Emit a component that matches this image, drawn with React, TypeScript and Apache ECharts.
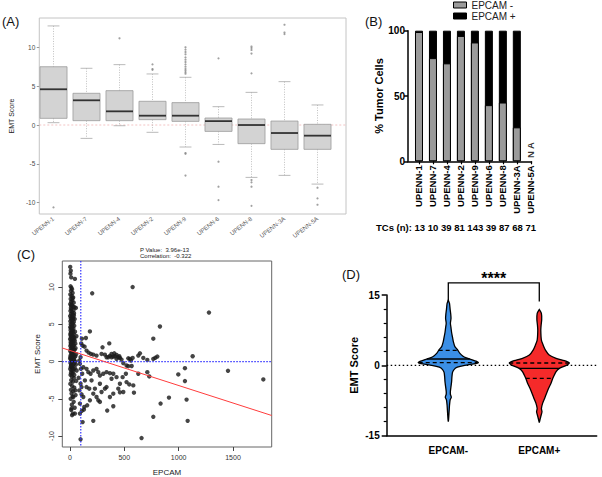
import React, { useEffect, useRef } from 'react';
import * as echarts from 'echarts';

const FONT = '"Liberation Sans", Arial, Helvetica, sans-serif';

// ---------- Panel A: box plots ----------
const aCats = ['UPENN-1', 'UPENN-7', 'UPENN-4', 'UPENN-2', 'UPENN-9', 'UPENN-6', 'UPENN-8', 'UPENN-3A', 'UPENN-5A'];
const aLow = [0.3, -1.72, -0.09, -0.94, -2.83, -2.5, -6.74, -6.48, -7.6];
const aQ1 = [0.86, 0.56, 0.56, 0.69, 0.47, -0.82, -2.4, -3.13, -3.13];
const aMed = [4.6, 3.18, 1.76, 1.2, 1.2, 0.5, 0.0, -1.03, -1.37];
const aQ3 = [7.5, 4.08, 4.42, 3.05, 2.88, 0.9, 0.77, 0.51, 0.09];
const aHigh = [12.75, 7.3, 7.77, 6.57, 6.14, 2.36, 4.2, 5.58, 2.58];
const aOutliers = [
  [0, -10.6],
  [2, 11.16],
  [3, 7.8], [3, 7.2], [3, 7.1],
  [4, 10.0], [4, 9.7], [4, 9.4], [4, 9.1], [4, 8.7], [4, 8.4], [4, 8.1], [4, 7.8], [4, 7.5], [4, 7.2], [4, 7.0], [4, 6.8], [4, 6.6], [4, -3.6], [4, -3.7], [4, -6.5],
  [5, 8.58], [5, -4.72], [5, -7.94], [5, -9.66],
  [6, 10.1], [6, 9.9], [6, 9.66], [6, 9.2], [6, 6.65], [6, -7.08], [6, -7.38], [6, -7.94], [6, -10.4],
  [7, 12.9], [7, 11.9], [7, 11.7],
  [8, -8.07], [8, -9.44], [8, -10.26],
];
const aYTicks = [-10, -5, 0, 5, 10];
const aYMin = -11.45;
const aYMax = 13.77;

// ---------- Panel B: stacked bars ----------
const bCats = ['UPENN-1', 'UPENN-7', 'UPENN-4', 'UPENN-2', 'UPENN-9', 'UPENN-6', 'UPENN-8', 'UPENN-3A', 'UPENN-5A'];
const bNeg = [99, 79, 75, 96, 91, 43, 45, 26, null];
const bPos = [1, 21, 25, 4, 9, 57, 55, 74, null];
const bCounts = [13, 10, 39, 81, 143, 39, 87, 68, 71];
const bNA = [[8, 8.6]];

// ---------- Panel C: scatter ----------
const cDense = [
  [3, 12.7], [8, 12.2], [5, 11.8], [12, 11.3], [46, 11.1], [6, 10.1], [14, 9.9], [20, 9.7], [9, 9.5], [25, 9.2], [4, 9.0], [16, 8.8], [30, 8.6], [7, 8.4], [22, 8.2], [11, 8.0], [35, 7.9], [3, 7.7], [18, 7.6], [27, 7.4], [42, 7.3], [9, 7.2], [55, 7.2], [14, 7.0], [33, 6.9], [5, 6.8], [21, 6.6], [38, 6.5], [10, 6.4], [26, 6.3], [2, 6.1], [17, 6.0], [31, 5.9], [8, 5.8], [44, 5.7], [13, 5.6], [23, 5.5], [4, 5.4], [36, 5.3], [19, 5.2], [28, 5.1], [7, 5.0], [15, 4.9], [40, 4.8], [24, 4.7], [3, 4.6], [11, 4.5], [32, 4.4], [18, 4.3], [6, 4.2], [27, 4.1], [47, 4.0], [13, 3.9], [21, 3.8], [35, 3.7], [4, 3.6], [16, 3.5], [29, 3.4], [9, 3.3], [41, 3.2], [23, 3.1], [2, 3.0], [14, 2.9], [33, 2.8], [19, 2.7], [7, 2.6], [26, 2.5], [50, 2.4], [11, 2.3], [37, 2.2], [4, 2.1], [22, 2.0], [15, 1.9], [30, 1.8], [8, 1.7], [44, 1.6], [18, 1.5], [3, 1.4], [25, 1.3], [35, 1.2], [12, 1.1], [58, 1.0], [20, 0.9], [6, 0.8], [28, 0.7], [42, 0.6], [14, 0.5], [2, 0.4], [32, 0.3], [10, 0.2], [23, 0.1], [48, 0.0], [17, -0.1], [5, -0.2], [38, -0.3], [13, -0.4], [27, -0.5], [8, -0.7], [20, -0.8], [45, -0.9], [3, -1.0], [15, -1.2], [31, -1.3], [10, -1.5], [24, -1.6], [6, -1.8], [18, -2.0], [36, -2.2], [12, -2.5], [28, -2.7], [4, -3.0], [21, -3.3], [40, -3.5], [9, -3.8], [30, -4.0], [15, -4.3], [52, -4.5], [25, -4.7], [7, -5.0], [35, -5.4], [18, -5.8], [44, -6.2], [12, -6.5], [28, -7.0], [20, -7.2],
  [5, 0.6], [16, 1.2], [26, 0.9], [36, 1.6], [9, 2.4], [19, 3.2], [29, 2.1], [40, 0.2], [12, -0.6], [33, -1.0], [22, 1.5], [7, 3.8], [17, 4.6], [27, 5.7], [37, 6.2], [11, 7.5], [23, 8.5], [34, 3.0], [45, 2.8], [52, 1.8], [55, -0.4], [40, -1.8], [50, 0.7], [60, 3.4], [58, -2.6], [62, -1.2],
  [49, -3.87], [31, -4.76], [15, -6.31], [46, -6.98],
];
const cMid = [
  [104, 2.44], [117, 2.13], [135, 2.0], [153, 1.47], [172, 1.2], [193, 1.02], [215, 0.93], [245, 0.8], [291, 1.02], [322, 0.93], [353, 0.58], [368, 0.76], [383, 0.58], [399, 0.67], [414, 0.71], [429, 0.36], [445, 0.58], [460, 0.49], [475, 0.27], [491, -0.22], [521, -0.53], [537, 0.44], [110, 3.07], [383, 1.02], [408, 1.11], [429, 0.89], [454, 0.71], [337, 0.58],
  [123, -0.76], [153, -0.98], [169, -1.42], [190, -1.64], [215, -1.2], [245, -0.98], [261, -1.42], [276, -1.87], [307, -1.64], [337, -1.42], [368, -1.56], [399, -1.64], [383, -2.31], [429, -2.09], [460, -2.98], [521, -2.76], [583, -3.2], [276, -2.98], [199, -2.53], [178, -3.64], [215, -4.31], [245, -4.76], [261, -5.2], [276, -5.42], [230, -3.64], [291, -4.09], [322, -3.64], [337, -3.42], [138, -2.53], [153, -3.42], [184, -5.2], [159, -5.87], [132, -6.09], [123, -4.76], [107, -3.42], [113, -1.64],
  [98, 0.58], [86, 0.13], [92, -0.31], [101, -0.98], [80, -2.18], [98, -2.98], [86, -3.87], [107, -4.4], [92, -5.64], [110, -6.62], [92, -6.98],
  [515, -1.64], [485, -2.09], [445, -3.64], [399, -4.31], [675, 0.49], [561, 0.13],
];
const cSparse = [
  [577, 10.0], [205, 9.16], [1279, 6.58], [828, 4.71], [767, 3.07], [184, 4.04], [147, 3.16], [300, 1.91], [362, 2.44], [644, 1.11], [629, 0.8], [804, 0.67], [785, 0.5], [767, 0.36], [1129, 0.71], [712, 0.22], [577, 0.49], [552, 0.36], [537, -0.62], [568, -0.6], [629, -1.64], [712, -1.42], [730, -2.0], [997, -1.73], [1058, -0.89], [1058, -2.62], [1454, -1.24], [1779, -2.4], [911, -4.84], [834, -5.64], [1073, -5.11], [1083, -7.96], [767, -7.42], [659, -10.27], [589, -4.18], [546, -3.07], [491, -4.09], [460, -4.13], [368, -4.76], [343, -6.58], [399, -6.0], [215, -7.96], [117, -8.13], [98, -10.44], [129, -6.44],
];
const cFit = [[-70, 1.82], [1856, -7.24]];
const cXTicks = [0, 500, 1000, 1500];
const cYTicks = [-10, -5, 0, 5, 10];
const cXMin = -70;
const cXMax = 1856;
const cYMin = -11.47;
const cYMax = 13.5;
const cCuts = [[100, 0]];
const cPValue = '3.96e-13';
const cCorr = '-0.322';

// ---------- Panel D: violins ----------
const dCats = ['EPCAM-', 'EPCAM+'];
const dBlue = [
  [13.9, 0], [13.2, 0.04], [12, 0.06], [11, 0.08], [10, 0.09], [9, 0.07], [8, 0.09], [7, 0.11], [6, 0.14], [5, 0.17], [4, 0.22], [3.3, 0.31], [2.6, 0.38], [2, 0.48], [1.6, 0.6], [1.2, 0.78], [0.9, 0.92], [0.6, 1.0], [0.3, 0.85], [0, 0.55], [-0.4, 0.3], [-0.9, 0.19], [-1.5, 0.14], [-2.5, 0.12], [-3.5, 0.11], [-4.5, 0.09], [-5.5, 0.07], [-6.2, 0.07], [-6.8, 0.1], [-7.4, 0.06], [-8.5, 0.04], [-9.5, 0.03], [-10.5, 0.02], [-11.5, 0.01], [-12, 0],
];
const dRed = [
  [11.9, 0], [11.1, 0.07], [9.7, 0.08], [8.5, 0.06], [7.5, 0.05], [5.4, 0.07], [4.3, 0.13], [3.3, 0.2], [2.2, 0.33], [1.5, 0.56], [1.0, 0.84], [0.5, 1.0], [0, 0.9], [-0.64, 0.67], [-1.35, 0.56], [-2.77, 0.45], [-3.8, 0.39], [-4.9, 0.31], [-6, 0.24], [-7, 0.18], [-8.1, 0.11], [-9.2, 0.07], [-9.9, 0.09], [-10.9, 0.05], [-12.2, 0],
];
const dQuartiles = [
  [0.57, 1.35, 3.2],
  [-2.77, -0.64, 0.5],
];
const dBracket = [[0, 1, 17.6, 13.6]];
const dSig = '****';
const dXMin = -0.677;
const dXMax = 1.631;

function widthAt(prof: number[][], y: number) {
  for (let k = 0; k < prof.length - 1; k++) {
    const [y0, w0] = prof[k];
    const [y1, w1] = prof[k + 1];
    if (y <= y0 && y >= y1) return w0 + ((w1 - w0) * (y - y0)) / (y1 - y0);
  }
  return 0;
}

const bold = { fontWeight: 'bold' as const, color: '#000', fontFamily: FONT };

function buildOption(): any {
  const profiles = [dBlue, dRed];
  const violinColors = ['#3b8fe6', '#f52a2a'];
  return {
    animation: false,
    textStyle: { fontFamily: FONT },
    legend: {
      data: ['EPCAM -', 'EPCAM +'],
      orient: 'vertical',
      left: 453,
      top: 0,
      padding: 0,
      itemGap: 1,
      itemWidth: 13,
      itemHeight: 6,
      icon: 'rect',
      itemStyle: { borderColor: '#000', borderWidth: 1 },
      textStyle: { fontSize: 10, color: '#222', lineHeight: 10, fontFamily: FONT },
    },
    grid: [
      { left: 25, top: 18, width: 321, height: 196, show: true, borderColor: '#c4c4c4', borderWidth: 1 },
      { left: 37, top: 18, width: 297, height: 196 },
      { left: 408, top: 30.7, width: 123.5, height: 130.6 },
      { left: 62.3, top: 261, width: 209.4, height: 187.3, show: true, borderColor: '#666', borderWidth: 1 },
      { left: 386.7, top: 295, width: 210, height: 140.7 },
    ],
    xAxis: [
      { gridIndex: 0, type: 'value', min: 0, max: 1, show: false },
      {
        gridIndex: 1, type: 'category', data: aCats,
        axisLine: { show: false }, axisTick: { show: false },
        axisLabel: { rotate: 38, fontSize: 6, color: '#5a5a5a', margin: 4, interval: 0 },
      },
      {
        gridIndex: 2, type: 'value', min: -0.786, max: 8.05,
        splitLine: { show: false },
        axisLine: { onZero: false, lineStyle: { color: '#000', width: 1.5 } },
        axisTick: { customValues: [0, 1, 2, 3, 4, 5, 6, 7, 8], length: 3, lineStyle: { color: '#000', width: 1.2 } },
        axisLabel: {
          customValues: [0, 1, 2, 3, 4, 5, 6, 7, 8], rotate: 90, fontSize: 9.5, margin: 4,
          formatter: (v: number) => bCats[Math.round(v)], ...bold,
        },
      },
      {
        gridIndex: 3, type: 'value', min: cXMin, max: cXMax,
        splitLine: { show: false },
        axisLine: { show: false, onZero: false },
        axisTick: { show: true, customValues: cXTicks, length: 4, lineStyle: { color: '#444' } },
        axisLabel: { customValues: cXTicks, fontSize: 7, color: '#333', margin: 7, formatter: (v: number) => String(v) },
        name: 'EPCAM', nameLocation: 'middle', nameGap: 21,
        nameTextStyle: { fontSize: 8, color: '#222' },
      },
      {
        gridIndex: 4, type: 'value', min: dXMin, max: dXMax,
        splitLine: { show: false },
        axisLine: { onZero: false, lineStyle: { color: '#000', width: 1.5 } },
        axisTick: { show: false },
        axisLabel: {
          customValues: [0, 1], fontSize: 10, margin: 10,
          formatter: (v: number) => dCats[Math.round(v)], ...bold,
        },
      },
    ],
    yAxis: [
      {
        gridIndex: 0, type: 'value', min: aYMin, max: aYMax,
        splitLine: { show: false },
        axisLine: { show: false, onZero: false },
        axisTick: { show: true, customValues: aYTicks, length: 2.5, lineStyle: { color: '#999' } },
        axisLabel: { customValues: aYTicks, fontSize: 6.5, color: '#4a4a4a', margin: 4 },
        name: 'EMT Score', nameLocation: 'middle', nameGap: 11,
        nameTextStyle: { fontSize: 7, color: '#222' },
      },
      { gridIndex: 1, type: 'value', min: aYMin, max: aYMax, show: false },
      {
        gridIndex: 2, type: 'value', min: 0, max: 100, interval: 50,
        splitLine: { show: false },
        axisLine: { show: true, onZero: false, lineStyle: { color: '#000', width: 1.5 } },
        axisTick: { show: true, length: 4, lineStyle: { color: '#000', width: 1.5 } },
        axisLabel: { fontSize: 10, margin: 3, ...bold },
        name: '% Tumor Cells', nameLocation: 'middle', nameGap: 20,
        nameTextStyle: { fontSize: 11, ...bold },
      },
      {
        gridIndex: 3, type: 'value', min: cYMin, max: cYMax,
        splitLine: { show: false },
        axisLine: { show: false, onZero: false },
        axisTick: { show: true, customValues: cYTicks, length: 4, lineStyle: { color: '#444' } },
        axisLabel: { customValues: cYTicks, rotate: 90, fontSize: 7, color: '#333', margin: 7 },
        name: 'EMT Score', nameLocation: 'middle', nameGap: 21,
        nameTextStyle: { fontSize: 8, color: '#222' },
      },
      {
        gridIndex: 4, type: 'value', min: -15, max: 15, interval: 15,
        splitLine: { show: false },
        axisLine: { show: true, onZero: false, lineStyle: { color: '#000', width: 1.5 } },
        axisTick: { show: true, length: 5, lineStyle: { color: '#000', width: 1.5 } },
        minorTick: { show: true, splitNumber: 5, length: 3, lineStyle: { color: '#000', width: 1.2 } },
        axisLabel: { fontSize: 10, margin: 7, ...bold },
        name: 'EMT Score', nameLocation: 'middle', nameGap: 27,
        nameTextStyle: { fontSize: 11, ...bold },
      },
    ],
    series: [
      // A: zero reference line
      {
        type: 'line', xAxisIndex: 0, yAxisIndex: 0, data: [[0, 0], [1, 0]], symbol: 'none', silent: true, z: 1,
        lineStyle: { color: '#f0b4b4', width: 0.8, type: [2, 2] },
      },
      // A: boxes
      {
        type: 'custom', xAxisIndex: 1, yAxisIndex: 1, z: 2,
        encode: { x: 0, y: [1, 2, 3, 4, 5] },
        data: aCats.map((_, i) => [i, aLow[i], aQ1[i], aMed[i], aQ3[i], aHigh[i]]),
        renderItem: (params: any, api: any) => {
          const i = api.value(0);
          const low = api.coord([i, api.value(1)]);
          const q1 = api.coord([i, api.value(2)]);
          const med = api.coord([i, api.value(3)]);
          const q3 = api.coord([i, api.value(4)]);
          const high = api.coord([i, api.value(5)]);
          const bw = api.size([1, 0])[0];
          const hw = bw * 0.41;
          const cw = bw * 0.18;
          const x = med[0];
          const wl = { stroke: '#b0b0b0', lineWidth: 0.8, lineDash: [1, 1.5] };
          const cap = { stroke: '#a8a8a8', lineWidth: 0.8 };
          return {
            type: 'group',
            children: [
              { type: 'line', shape: { x1: x, y1: high[1], x2: x, y2: q3[1] }, style: wl },
              { type: 'line', shape: { x1: x, y1: q1[1], x2: x, y2: low[1] }, style: wl },
              { type: 'line', shape: { x1: x - cw, y1: high[1], x2: x + cw, y2: high[1] }, style: cap },
              { type: 'line', shape: { x1: x - cw, y1: low[1], x2: x + cw, y2: low[1] }, style: cap },
              { type: 'rect', shape: { x: x - hw, y: q3[1], width: 2 * hw, height: q1[1] - q3[1] }, style: { fill: '#d3d3d3', stroke: '#9a9a9a', lineWidth: 0.8 } },
              { type: 'line', shape: { x1: x - hw, y1: med[1], x2: x + hw, y2: med[1] }, style: { stroke: '#333', lineWidth: 1.8 } },
            ],
          };
        },
      },
      // A: outliers
      {
        type: 'scatter', xAxisIndex: 1, yAxisIndex: 1, z: 3, data: aOutliers, symbolSize: 2.2,
        itemStyle: { color: '#8a8a8a' }, silent: true,
      },
      // B bars: black total (EPCAM+ on top of EPCAM-) behind, gray EPCAM- overlaid in front
      {
        name: 'EPCAM +', type: 'bar', xAxisIndex: 2, yAxisIndex: 2, barWidth: 8, barGap: '-100%', z: 2,
        data: bPos.map((v, i) => [i, v == null || bNeg[i] == null ? null : (bNeg[i] as number) + v]),
        itemStyle: { color: '#000', borderColor: '#000', borderWidth: 1 },
      },
      {
        name: 'EPCAM -', type: 'bar', xAxisIndex: 2, yAxisIndex: 2, barWidth: 8, barGap: '-100%', z: 3,
        data: bNeg.map((v, i) => [i, v]),
        itemStyle: { color: '#9b9b9b', borderColor: '#000', borderWidth: 1 },
      },
      {
        type: 'scatter', xAxisIndex: 2, yAxisIndex: 2, data: bNA, symbolSize: 1,
        itemStyle: { color: 'rgba(0,0,0,0)' },
        label: { show: true, formatter: 'N A', rotate: 90, position: 'inside', fontSize: 9.5, ...bold },
      },
      // C scatter
      {
        type: 'scatter', xAxisIndex: 3, yAxisIndex: 3, symbolSize: 4.4, z: 3,
        data: [...cDense, ...cMid, ...cSparse],
        itemStyle: { color: '#1c1c1c', opacity: 0.82 },
      },
      // C blue cut-off lines (vertical at EPCAM cut, horizontal at EMT 0)
      {
        type: 'custom', xAxisIndex: 3, yAxisIndex: 3, z: 4, silent: true,
        encode: { x: 0, y: 1 },
        data: cCuts,
        renderItem: (params: any, api: any) => {
          const p = api.coord([api.value(0), api.value(1)]);
          const tl = api.coord([cXMin, cYMax]);
          const br = api.coord([cXMax, cYMin]);
          const st = { stroke: '#3434ff', lineWidth: 1.2, lineDash: [1.5, 1.5] };
          return {
            type: 'group',
            children: [
              { type: 'line', shape: { x1: p[0], y1: tl[1], x2: p[0], y2: br[1] }, style: st },
              { type: 'line', shape: { x1: tl[0], y1: p[1], x2: br[0], y2: p[1] }, style: st },
            ],
          };
        },
      },
      // C regression line
      {
        type: 'line', xAxisIndex: 3, yAxisIndex: 3, data: cFit, symbol: 'none', silent: true, z: 5,
        lineStyle: { color: '#ff3c3c', width: 1 },
      },
      // D zero dotted line
      {
        type: 'line', xAxisIndex: 4, yAxisIndex: 4, data: [[dXMin, 0], [dXMax, 0]], symbol: 'none', silent: true, z: 1,
        lineStyle: { color: '#000', width: 1.3, type: [1.5, 2.5] },
      },
      // D violins
      {
        type: 'custom', xAxisIndex: 4, yAxisIndex: 4, z: 3,
        encode: { x: 0, y: [1, 2, 3] },
        data: dQuartiles.map((q, i) => [i, q[0], q[1], q[2]]),
        renderItem: (params: any, api: any) => {
          const i = params.dataIndex;
          const prof = profiles[i];
          const xc = api.coord([i, 0])[0];
          const maxW = api.size([1, 0])[0] * 0.33;
          const right = prof.map(([y, w]) => [xc + w * maxW, api.coord([i, y])[1]]);
          const left = prof.slice().reverse().map(([y, w]) => [xc - w * maxW, api.coord([i, y])[1]]);
          const lines = [1, 2, 3].map((k) => {
            const qv = api.value(k);
            const w = widthAt(prof, qv) * maxW;
            const py = api.coord([i, qv])[1];
            return {
              type: 'line',
              shape: { x1: xc - w, y1: py, x2: xc + w, y2: py },
              style: { stroke: '#000', lineWidth: 1.3, lineDash: k === 2 ? null : [4, 3] },
            };
          });
          return {
            type: 'group',
            children: [
              {
                type: 'polygon', shape: { points: right.concat(left), smooth: 0.2 },
                style: { fill: violinColors[i], stroke: '#000', lineWidth: 1.3 },
              },
              ...lines,
            ],
          };
        },
      },
      // D significance bracket
      {
        type: 'custom', xAxisIndex: 4, yAxisIndex: 4, z: 4, clip: false,
        data: dBracket,
        renderItem: (params: any, api: any) => {
          const a = api.coord([api.value(0), api.value(3)]);
          const b = api.coord([api.value(0), api.value(2)]);
          const c = api.coord([api.value(1), api.value(2)]);
          const d = api.coord([api.value(1), api.value(3)]);
          return {
            type: 'group',
            children: [
              { type: 'polyline', shape: { points: [a, b, c, d] }, style: { stroke: '#000', lineWidth: 1.3, fill: 'none' } },
              {
                type: 'text',
                style: {
                  x: (b[0] + c[0]) / 2, y: b[1] - 4, text: dSig, fill: '#000',
                  font: `bold 16px ${FONT}`, textAlign: 'center', textVerticalAlign: 'middle',
                },
              },
            ],
          };
        },
      },
    ],
    graphic: [
      { type: 'text', left: 2, top: 15, style: { text: '(A)', font: `13px ${FONT}`, fill: '#111' } },
      { type: 'text', left: 365, top: 15, style: { text: '(B)', font: `13px ${FONT}`, fill: '#111' } },
      { type: 'text', left: 17, top: 248, style: { text: '(C)', font: `13px ${FONT}`, fill: '#111' } },
      { type: 'text', left: 342, top: 268, style: { text: '(D)', font: `13px ${FONT}`, fill: '#111' } },
      { type: 'text', left: 140, top: 246.5, style: { text: `P Value:  ${cPValue}`, font: `6px ${FONT}`, fill: '#222' } },
      { type: 'text', left: 140, top: 252.5, style: { text: `Correlation:  ${cCorr}`, font: `6px ${FONT}`, fill: '#222' } },
      { type: 'text', left: 376, top: 222.5, style: { text: `TCs (n): ${bCounts.join(' ')}`, font: `bold 9.5px ${FONT}`, fill: '#000' } },
    ],
  };
}

export default function App() {
  const ref = useRef<HTMLDivElement>(null);
  useEffect(() => {
    const chart = echarts.init(ref.current!, null, { renderer: 'svg' });
    chart.setOption(buildOption());
    return () => chart.dispose();
  }, []);
  return (
    <div
      ref={ref}
      style={{ position: 'fixed', left: 0, top: 0, width: 602, height: 477, background: '#fff' }}
    />
  );
}
